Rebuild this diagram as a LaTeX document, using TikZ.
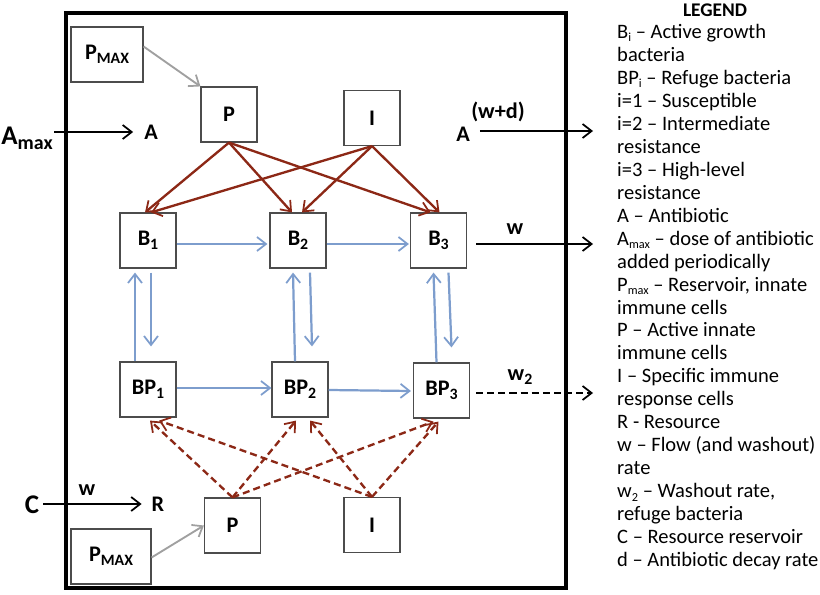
\documentclass[tikz,border=0pt]{standalone}
\usepackage{fontspec}
\setmainfont{Carlito}
\usetikzlibrary{positioning,calc,arrows.meta}

\definecolor{redarr}{RGB}{140,40,22}
\definecolor{bluarr}{RGB}{125,157,205}
\definecolor{grayarr}{RGB}{160,160,160}
\newcommand\lab{\bfseries\fontsize{19}{22}\selectfont}
\newcommand\biglab{\bfseries\fontsize{23}{25}\selectfont}
\newcommand\lowtxt[1]{\raisebox{-0.35ex}{\fontsize{13.5}{13.5}\selectfont #1}}
\newcommand\legsub[1]{\raisebox{-0.35ex}{\fontsize{10.5}{10.5}\selectfont #1}}

\begin{document}
\begin{tikzpicture}[x=0.03cm,y=-0.03cm,
  box/.style={draw=black!70,line width=1pt,fill=white,minimum width=1.68cm,minimum height=1.65cm,inner sep=0pt,font=\lab},
  tip/.style={-{Straight Barb[length=2.7mm,width=4.2mm,line width=1.5pt]}},
  blk/.style={tip,line width=1.9pt,black},
  red/.style={tip,line width=2pt,redarr},
  reddash/.style={red,dash pattern=on 6pt off 3.5pt},
  blu/.style={tip,line width=1.9pt,bluarr},
  gry/.style={tip,line width=1.6pt,grayarr}]
\useasboundingbox (0,0) rectangle (820,595);

\draw[line width=2.8pt] (66,13) rectangle (566,588);

\node[box,minimum width=2.16cm] (Pmax) at (107,54.5) {P\lowtxt{MAX}};
\node[box] (P) at (229,114.5) {P};
\node[box] (I) at (372,118) {I};
\node[box] (B1) at (148,240.5) {B\lowtxt{1}};
\node[box] (B2) at (298,240.5) {B\lowtxt{2}};
\node[box] (B3) at (438.5,240.5) {B\lowtxt{3}};
\node[box] (BP1) at (148,389.5) {BP\lowtxt{1}};
\node[box] (BP2) at (300,389.5) {BP\lowtxt{2}};
\node[box] (BP3) at (441.5,390.5) {BP\lowtxt{3}};
\node[box] (P2) at (232.5,525.5) {P};
\node[box] (I2) at (372,525) {I};
\node[box,minimum width=2.4cm] (Pmax2) at (111,556.5) {P\lowtxt{MAX}};

% inputs and outputs
\node[font=\biglab,anchor=west,inner xsep=1pt] (Amax) at (0,138) {A\raisebox{-0.4ex}{\fontsize{17}{17}\selectfont max}};
\node[font=\lab] (A1) at (151,132) {A};
\draw[blk] (Amax.east |- A1) -- ($(A1.west)+(-7,0)$);
\node[font=\lab] (A2) at (463,134) {A};
\node[font=\lab] (wd) at (498,112) {(w+d)};
\coordinate (Aout) at (593,131);
\draw[blk] ($(A2.east)+(6,-3)$) -- (Aout);
\node[font=\lab] (w1) at (515,229) {w};
\coordinate (Bout) at (593,244);
\draw[blk] ($(B3.east)+(9,3.5)$) -- (Bout);
\node[font=\lab] (w2) at (520,377) {w\lowtxt{2}};
\coordinate (BPout) at (593,393);
\draw[blk,dash pattern=on 6pt off 3.5pt] ($(BP3.east)+(6,2.5)$) -- (BPout);
\node[font=\biglab] (C) at (32,505) {C};
\node[font=\lab] (R) at (158,504) {R};
\node[font=\lab] (w3) at (87,490) {w};
\draw[blk] (C.east |- R) -- ($(R.west)+(-6,0)$);

% reservoirs
\draw[gry] (Pmax.east) ++(0,-8) -- (P.north west);
\draw[gry] ($(Pmax2.east)+(0,1)$) -- (P2.west);

% immune attack
\foreach \s/\t/\dx in {P/B1/-3,P/B2/-6,P/B3/-8,I/B1/3,I/B2/4,I/B3/1}
  \draw[red] (\s.south) -- ($(\t.north)+(\dx,0)$);
\foreach \s/\t/\dx in {P2/BP1/2,P2/BP2/-4,P2/BP3/-8,I2/BP1/11,I2/BP2/10,I2/BP3/-3}
  \draw[reddash] (\s.north) -- ($(\t.south)+(\dx,3)$);

% transitions
\draw[blu] ($(B1.east)+(0,3.5)$) -- ($(B2.west)+(-2,3.5)$);
\draw[blu] ($(B2.east)+(0,3.5)$) -- ($(B3.west)+(-1,3.5)$);
\draw[blu] ($(BP1.east)+(0,-1.5)$) -- ($(BP2.west)+(0,-1.5)$);
\draw[blu] ($(BP2.east)+(0,0.5)$) -- ($(BP3.west)+(-2,0.5)$);
\foreach \i/\u/\d in {1/-13/3,2/-5/12,3/-5/10}{
  \draw[blu] ($(BP\i.north)+(\u,0)$) -- ($(B\i.south)+(\u,4)$);
  \draw[blu] ($(B\i.south)+(\d,4)$) -- ($(BP\i.north)+(\d,-15)$);
}

% legend
\node[font=\bfseries\fontsize{16.5}{18}\selectfont] (leg) at (715,10) {LEGEND};
\node[anchor=north west,align=left,inner sep=0pt,font=\fontsize{17.5}{19.6}\selectfont] (legtxt) at (617,24) {%
B\legsub{i} – Active growth\\
bacteria\\
BP\legsub{i} – Refuge bacteria\\
i=1 – Susceptible\\
i=2 – Intermediate\\
resistance\\
i=3 – High-level\\
resistance\\
A – Antibiotic\\
A\legsub{max} – dose of antibiotic\\
added periodically\\
P\legsub{max} – Reservoir, innate\\
immune cells\\
P – Active innate\\
immune cells\\
I – Specific immune\\
response cells\\
R - Resource\\
w – Flow (and washout)\\
rate\\
w\legsub{2} – Washout rate,\\
refuge bacteria\\
C – Resource reservoir\\
d – Antibiotic decay rate};
\end{tikzpicture}
\end{document}
